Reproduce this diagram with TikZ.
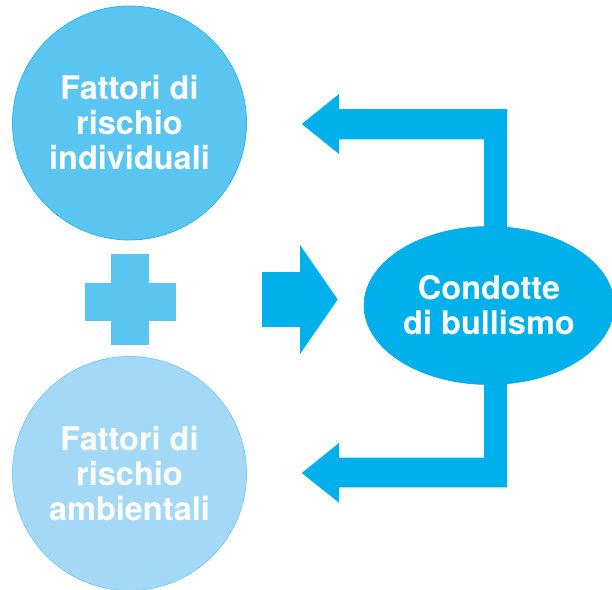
\documentclass[tikz,border=0pt]{standalone}
\usepackage{fontspec}
\setmainfont{TeX Gyre Heros}
\usetikzlibrary{shapes.geometric}
\definecolor{topblue}{HTML}{5BC5F2}
\definecolor{topedge}{HTML}{2DB6EC}
\definecolor{botblue}{HTML}{A3D9F7}
\definecolor{botedge}{HTML}{7DCBF2}
\definecolor{cyanarrow}{HTML}{00B0EB}
\definecolor{elledge}{HTML}{0AA8E0}
\tikzset{
  bubble/.style={circle, inner sep=0pt, minimum size=234pt, line width=0.8pt,
    text=white, align=center, font=\fontsize{32.5}{35}\selectfont\bfseries},
  blockarrow/.style={fill=cyanarrow, draw=none},
}
\begin{document}
\begin{tikzpicture}[x=1pt,y=-1pt]
\useasboundingbox (0,0) rectangle (612,589);
% feedback arrows (drawn under the ellipse)
\coordinate (tipA) at (301.7,124);
\coordinate (tipB) at (301.7,473);
\fill[blockarrow] (507,260) -- (507,109) -- (339,109) -- (339,94) -- (tipA)
  -- (339,154) -- (339,139.3) -- (484,139.3) -- (484,260) -- cycle;
\fill[blockarrow] (484,350) -- (484,457.7) -- (339,457.7) -- (339,443) -- (tipB)
  -- (339,502.7) -- (339,487.3) -- (507,487.3) -- (507,350) -- cycle;
% nodes
\node[bubble, fill=topblue, draw=topedge] (ind) at (129.5,123) {Fattori di\\rischio\\individuali};
\node[bubble, fill=botblue, draw=botedge] (amb) at (129.5,473.5) {Fattori di\\rischio\\ambientali};
\node[ellipse, inner sep=0pt, minimum width=250pt, minimum height=158pt,
  fill=cyanarrow, draw=elledge, line width=0.6pt, text=white, align=center,
  font=\fontsize{32.5}{35}\selectfont\bfseries] (bul) at (489,305.5) {Condotte\\di bullismo};
% plus sign
\fill[topblue] (111,254) rectangle (149,345);
\fill[topblue] (85,282.7) rectangle (176,320.7);
% middle arrow
\coordinate (tipM) at (337.7,299.5);
\fill[blockarrow] (262,272) -- (300,272) -- (300,245) -- (tipM)
  -- (300,354) -- (300,327) -- (262,327) -- cycle;
\end{tikzpicture}
\end{document}
